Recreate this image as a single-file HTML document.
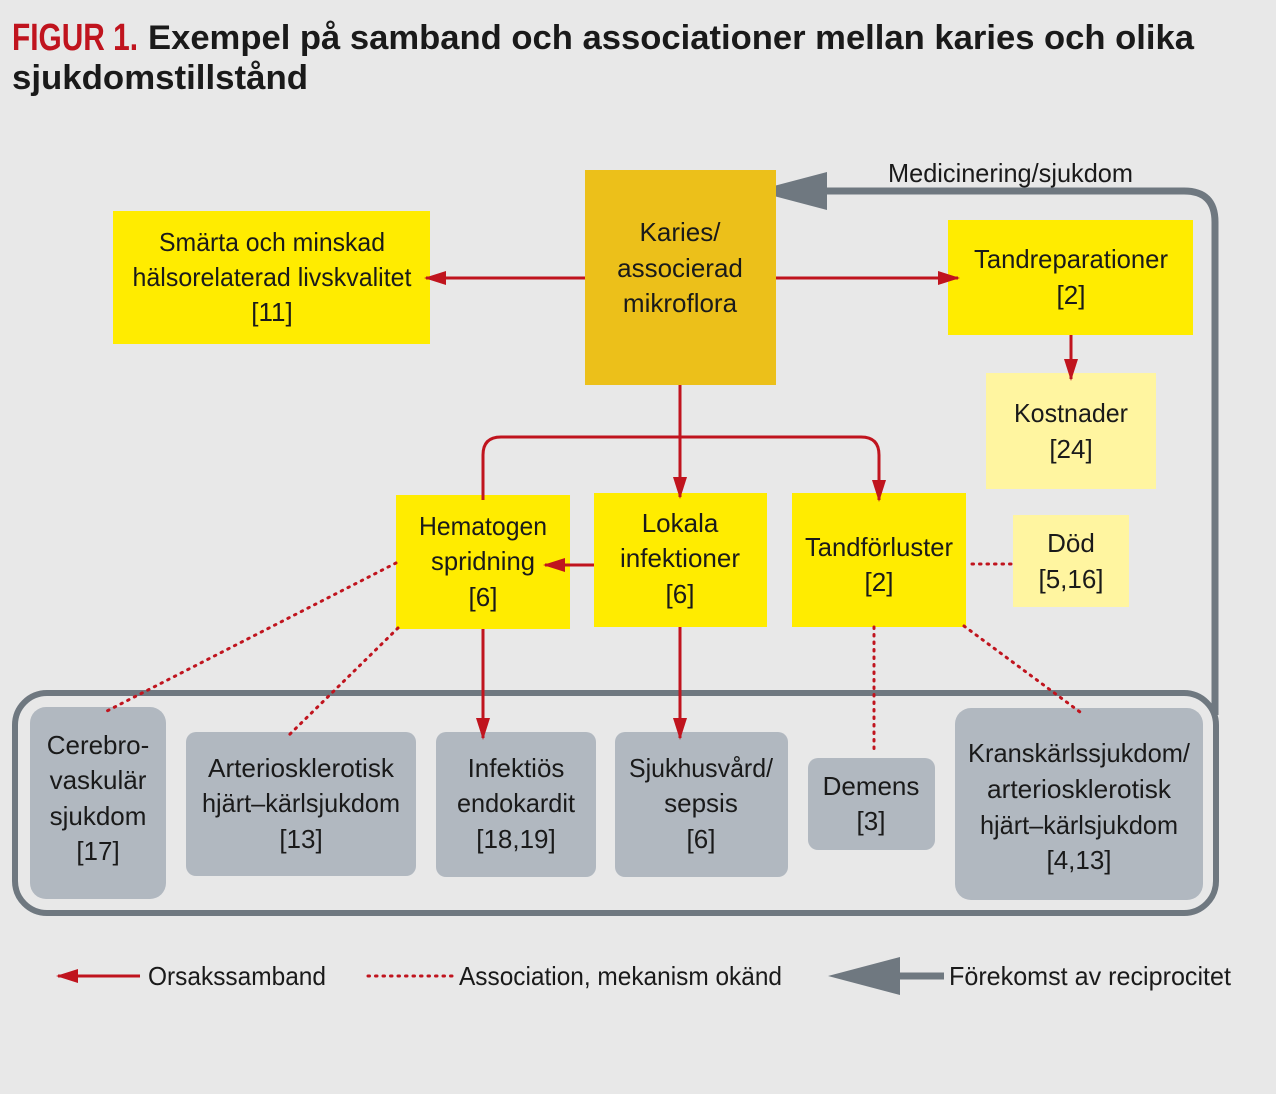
<!DOCTYPE html>
<html><head><meta charset="utf-8"><style>
html,body{margin:0;padding:0;background:#e8e8e8;}
svg{display:block;}
text{font-family:"Liberation Sans Narrow","Liberation Sans",sans-serif;fill:#1a1a1a;}
.t{font-size:26px;text-anchor:middle;}
</style></head><body>
<svg width="1276" height="1094" viewBox="0 0 1276 1094" xmlns="http://www.w3.org/2000/svg">
<defs>
<marker id="ar" markerWidth="22" markerHeight="14" refX="20" refY="7" orient="auto" markerUnits="userSpaceOnUse">
<path d="M0,0 L22,7 L0,14 Z" fill="#c0141e"/></marker>
</defs>
<rect width="1276" height="1094" fill="#e8e8e8"/>
<text x="12" y="50" style="font-size:38px;font-weight:bold;fill:#c0141e" textLength="126" lengthAdjust="spacingAndGlyphs">FIGUR 1.</text>
<text x="148" y="49" style="font-size:34px;font-weight:bold" textLength="1046" lengthAdjust="spacingAndGlyphs">Exempel på samband och associationer mellan karies och olika</text>
<text x="12" y="89" style="font-size:34px;font-weight:bold" textLength="296" lengthAdjust="spacingAndGlyphs">sjukdomstillstånd</text>

<rect x="15" y="693" width="1201" height="220" rx="32" fill="none" stroke="#6f7880" stroke-width="6"/>
<path d="M1215,715 L1215,222 Q1215,191 1184,191 L820,191" fill="none" stroke="#6f7880" stroke-width="7"/>
<path d="M755,191 L827,172 L827,210 Z" fill="#6f7880"/>
<text x="888" y="182" style="font-size:26px" textLength="245" lengthAdjust="spacingAndGlyphs">Medicinering/sjukdom</text>

<rect x="585" y="170" width="191" height="215" fill="#ecc01a"/>
<text class="t" x="680" y="241">Karies/</text><text class="t" x="680" y="277">associerad</text><text class="t" x="680" y="312">mikroflora</text>
<rect x="113" y="211" width="317" height="133" fill="#ffec00"/>
<text class="t" x="272" y="251" textLength="226" lengthAdjust="spacingAndGlyphs">Smärta och minskad</text><text class="t" x="272" y="286" textLength="279" lengthAdjust="spacingAndGlyphs">hälsorelaterad livskvalitet</text><text class="t" x="272" y="321">[11]</text>
<rect x="948" y="220" width="245" height="115" fill="#ffec00"/>
<text class="t" x="1071" y="268" textLength="194" lengthAdjust="spacingAndGlyphs">Tandreparationer</text><text class="t" x="1071" y="304">[2]</text>
<rect x="986" y="373" width="170" height="116" fill="#fff5a0"/>
<text class="t" x="1071" y="422" textLength="114" lengthAdjust="spacingAndGlyphs">Kostnader</text><text class="t" x="1071" y="458">[24]</text>
<rect x="396" y="495" width="174" height="134" fill="#ffec00"/>
<text class="t" x="483" y="535" textLength="128" lengthAdjust="spacingAndGlyphs">Hematogen</text><text class="t" x="483" y="570" textLength="104" lengthAdjust="spacingAndGlyphs">spridning</text><text class="t" x="483" y="606">[6]</text>
<rect x="594" y="493" width="173" height="134" fill="#ffec00"/>
<text class="t" x="680" y="532">Lokala</text><text class="t" x="680" y="567" textLength="120" lengthAdjust="spacingAndGlyphs">infektioner</text><text class="t" x="680" y="603">[6]</text>
<rect x="792" y="493" width="174" height="134" fill="#ffec00"/>
<text class="t" x="879" y="556" textLength="148" lengthAdjust="spacingAndGlyphs">Tandförluster</text><text class="t" x="879" y="591">[2]</text>
<rect x="1013" y="515" width="116" height="92" fill="#fff5a0"/>
<text class="t" x="1071" y="552">Död</text><text class="t" x="1071" y="588">[5,16]</text>

<g fill="#b1b8c0">
<rect x="30" y="707" width="136" height="192" rx="16"/>
<rect x="186" y="732" width="230" height="144" rx="10"/>
<rect x="436" y="732" width="160" height="145" rx="10"/>
<rect x="615" y="732" width="173" height="145" rx="10"/>
<rect x="808" y="758" width="127" height="92" rx="10"/>
<rect x="955" y="708" width="248" height="192" rx="16"/>
</g>
<text class="t" x="98" y="754">Cerebro-</text><text class="t" x="98" y="789">vaskulär</text><text class="t" x="98" y="825">sjukdom</text><text class="t" x="98" y="860">[17]</text>
<text class="t" x="301" y="777" textLength="186" lengthAdjust="spacingAndGlyphs">Arteriosklerotisk</text><text class="t" x="301" y="812" textLength="198" lengthAdjust="spacingAndGlyphs">hjärt–kärlsjukdom</text><text class="t" x="301" y="848">[13]</text>
<text class="t" x="516" y="777">Infektiös</text><text class="t" x="516" y="812" textLength="118" lengthAdjust="spacingAndGlyphs">endokardit</text><text class="t" x="516" y="848">[18,19]</text>
<text class="t" x="701" y="777" textLength="144" lengthAdjust="spacingAndGlyphs">Sjukhusvård/</text><text class="t" x="701" y="812">sepsis</text><text class="t" x="701" y="848">[6]</text>
<text class="t" x="871" y="795">Demens</text><text class="t" x="871" y="830">[3]</text>
<text class="t" x="1079" y="762" textLength="222" lengthAdjust="spacingAndGlyphs">Kranskärlssjukdom/</text><text class="t" x="1079" y="798" textLength="184" lengthAdjust="spacingAndGlyphs">arteriosklerotisk</text><text class="t" x="1079" y="834" textLength="198" lengthAdjust="spacingAndGlyphs">hjärt–kärlsjukdom</text><text class="t" x="1079" y="869">[4,13]</text>

<g stroke="#c0141e" stroke-width="3" fill="none">
<line x1="585" y1="278" x2="426" y2="278" marker-end="url(#ar)"/>
<line x1="776" y1="278" x2="958" y2="278" marker-end="url(#ar)"/>
<line x1="1071" y1="335" x2="1071" y2="379" marker-end="url(#ar)"/>
<line x1="680" y1="385" x2="680" y2="497" marker-end="url(#ar)"/>
<path d="M483,500 L483,455 Q483,437 501,437 L861,437 Q879,437 879,455 L879,500" marker-end="url(#ar)"/>
<line x1="594" y1="565" x2="545" y2="565" marker-end="url(#ar)"/>
<line x1="483" y1="629" x2="483" y2="738" marker-end="url(#ar)"/>
<line x1="680" y1="627" x2="680" y2="738" marker-end="url(#ar)"/>
</g>
<g stroke="#c0141e" stroke-width="3" stroke-dasharray="1.5 6" stroke-linecap="round" fill="none">
<line x1="396" y1="563" x2="105" y2="712"/>
<line x1="398" y1="628" x2="286" y2="738"/>
<line x1="874" y1="627" x2="874" y2="752"/>
<line x1="964" y1="626" x2="1080" y2="712"/>
<line x1="972" y1="564" x2="1013" y2="564"/>
</g>

<line x1="140" y1="976" x2="58" y2="976" stroke="#c0141e" stroke-width="3" marker-end="url(#ar)"/>
<text x="148" y="985" style="font-size:26px" textLength="178" lengthAdjust="spacingAndGlyphs">Orsakssamband</text>
<line x1="368" y1="976" x2="455" y2="976" stroke="#c0141e" stroke-width="3" stroke-dasharray="1.5 6" stroke-linecap="round"/>
<text x="459" y="985" style="font-size:26px" textLength="323" lengthAdjust="spacingAndGlyphs">Association, mekanism okänd</text>
<path d="M828,976 L900,957 L900,995 Z" fill="#6f7880"/>
<line x1="898" y1="976" x2="944" y2="976" stroke="#6f7880" stroke-width="7"/>
<text x="949" y="985" style="font-size:26px" textLength="282" lengthAdjust="spacingAndGlyphs">Förekomst av reciprocitet</text>
</svg>
</body></html>
